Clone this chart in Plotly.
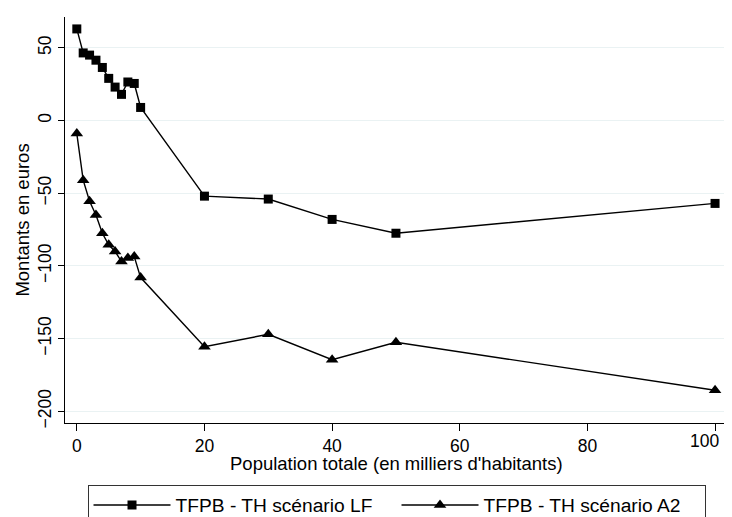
import plotly.graph_objects as go

population = [0, 1, 2, 3, 4, 5, 6, 7, 8, 9, 10, 20, 30, 40, 50, 100]
scenario_lf = [63, 46.5, 45, 41.5, 36.5, 29, 23, 18, 26.5, 25.5, 9, -52, -54, -68, -77.5, -57]
scenario_a2 = [-9, -41, -55.5, -65, -77.5, -85.5, -90, -97, -94.5, -93.5, -108, -155.5, -147, -164.5, -152.5, -185.5]
name_lf = "TFPB - TH scénario LF"
name_a2 = "TFPB - TH scénario A2"
y_ticks = [-200, -150, -100, -50, 0, 50]
x_ticks = [0, 20, 40, 60, 80, 100]
x_tick_labels = ["0", "20", "40", "60", "80", "100"]
x_title = "Population totale (en milliers d'habitants)"
y_title = "Montants en euros"

FONT = "Liberation Sans, Arial, sans-serif"

fig = go.Figure()
fig.add_trace(go.Scatter(
    x=population, y=scenario_lf, name=name_lf, mode="lines+markers",
    line=dict(color="black", width=1.4),
    marker=dict(symbol="square", size=9, color="black"),
))
fig.add_trace(go.Scatter(
    x=population, y=scenario_a2, name=name_a2, mode="lines+markers",
    line=dict(color="black", width=1.4),
    marker=dict(symbol="triangle-up", size=11, color="black"),
))

# the last x label is pulled inward (as in the reference): drawn as an annotation at its tick
x_ticktext = x_tick_labels[:-1] + [""]
fig.add_annotation(
    x=x_ticks[-1], xref="x", y=0, yref="paper", yanchor="top", xanchor="right",
    xshift=6, yshift=-6, text=x_tick_labels[-1], showarrow=False,
    font=dict(family=FONT, size=17.5, color="black"),
)
# x-axis title
fig.add_annotation(
    x=0.5, xref="paper", y=-0.1, yref="paper", yanchor="middle", xanchor="center",
    text=x_title, showarrow=False, font=dict(family=FONT, size=18.5, color="black"),
)

# the page adds an 8px body margin, so margins are offset by 8px
fig.update_layout(
    width=732, height=517,
    margin=dict(l=56.5, r=13.3, t=8.7, b=102, autoexpand=False),
    paper_bgcolor="white", plot_bgcolor="white",
    font=dict(family=FONT, size=18, color="black"),
    showlegend=True,
    legend=dict(
        orientation="h", x=0.034, xanchor="left", y=-0.1526, yanchor="top",
        bordercolor="#333333", borderwidth=1, bgcolor="white",
        font=dict(family=FONT, size=19.2, color="black"),
        itemwidth=77, entrywidth=216, entrywidthmode="pixels",
        tracegroupgap=0,
    ),
    xaxis=dict(
        range=[-1.85, 101.87], tickvals=x_ticks, ticktext=x_ticktext,
        ticks="outside", ticklen=7,
        tickcolor="black", showline=True, linecolor="black", linewidth=1,
        showgrid=False, zeroline=False, tickfont=dict(size=17.5), automargin=False,
        ticklabelstandoff=0,
    ),
    yaxis=dict(
        range=[-208, 71.2], tickvals=y_ticks, ticks="outside", ticklen=6,
        tickcolor="black", showline=True, linecolor="black", linewidth=1,
        showgrid=True, gridcolor="#EAF2F3", gridwidth=1, zeroline=False, automargin=False,
        tickangle=-90, tickfont=dict(size=17.5),
        title=dict(text=y_title, font=dict(size=18.5), standoff=0),
    ),
)

fig.write_html("out.html")
